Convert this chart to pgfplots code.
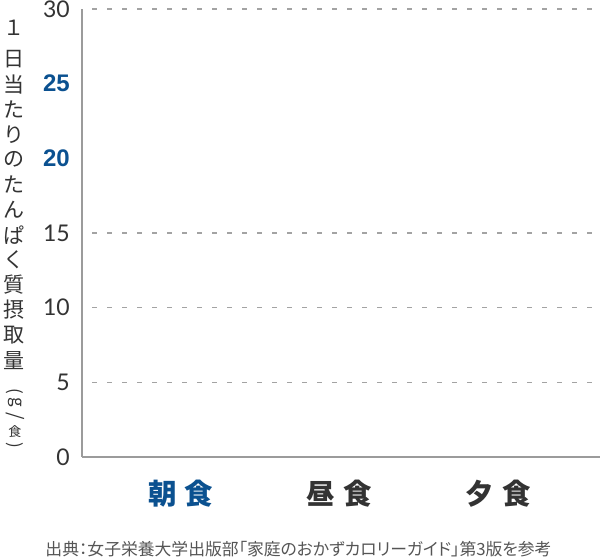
\documentclass[border=0pt]{standalone}
\usepackage{fontspec}
\setmainfont{Noto Sans CJK JP}
\newfontfamily\srcfont{Noto Sans CJK JP}[RawFeature=+palt]
\newfontfamily\numfont{Lato}
\newfontfamily\arialfont{Liberation Sans}
\usepackage{pgfplots}
\pgfplotsset{compat=1.18}
\definecolor{axisgray}{HTML}{9B9B9B}
\definecolor{gridgray}{HTML}{A3A3A3}
\definecolor{navy}{HTML}{0B5190}
\definecolor{darktext}{HTML}{333333}
\definecolor{srcgray}{HTML}{555555}
\newcommand\ylab{\fontsize{21}{21}\selectfont}
\newcommand\catgap{\hspace{8pt}}
\newcommand\hl[1]{{\arialfont\bfseries\fontsize{24}{24}\selectfont\color{navy}#1}}

\begin{document}
\begin{tikzpicture}[x=1pt,y=1pt]
\path[use as bounding box] (0,0) rectangle (600,559);
\begin{axis}[
  at={(82pt,102pt)}, anchor=south west,
  scale only axis, width=518pt, height=448pt,
  xmin=-0.62, xmax=2.64, ymin=0, ymax=30,
  axis x line*=bottom, axis y line*=left,
  axis line style={axisgray, line width=2.8pt},
  major tick length=0pt,
  xtick={0,1,2},
  xticklabels={{\color{navy}朝\catgap 食}, 昼\catgap 食, 夕\catgap 食},
  xticklabel style={font=\bfseries\fontsize{28.5}{28.5}\selectfont, text=darktext,
    anchor=center, inner sep=0pt, yshift=-37pt},
  ytick={0,5,10,15,20,25,30},
  yticklabels={0,5,10,15,\hl{20},\hl{25},30},
  yticklabel style={font=\numfont\fontsize{23}{23}\selectfont, text=darktext,
    anchor=east, inner sep=0pt, xshift=-12pt},
  extra y ticks={5,10,15,30},
  extra y tick labels={},
  extra y tick style={grid=major,
    major grid style={gridgray, line width=1.2pt, dash pattern=on 5pt off 10pt, dash phase=5pt}},
]
\end{axis}
% y axis title, set vertically
\node[font=\ylab, text=darktext] at (14,531) {１};
\foreach \c [count=\i from 0] in {日,当,た,り,の,た,ん,ぱ,く,質,摂,取,量}
  \node[font=\ylab, text=darktext] at (14,{500-25.1*\i}) {\c};
\node[font=\fontsize{17}{17}\selectfont, text=darktext, rotate=-90] at (15,168) {(};
\node[font=\fontsize{17}{17}\selectfont, text=darktext, rotate=-90] at (15,157) {g};
\node[font=\fontsize{19}{19}\selectfont, text=darktext, rotate=-90] at (15,143) {/};
\node[font=\fontsize{13}{13}\selectfont, text=darktext] at (15,127) {食};
\node[font=\fontsize{17}{17}\selectfont, text=darktext, rotate=-90] at (15,114) {)};
% source
\node[font=\srcfont\fontsize{16.8}{16.8}\selectfont, text=srcgray] at (298.5,10) {出典：女子栄養大学出版部「家庭のおかずカロリーガイド」第3版を参考};
\end{tikzpicture}
\end{document}
